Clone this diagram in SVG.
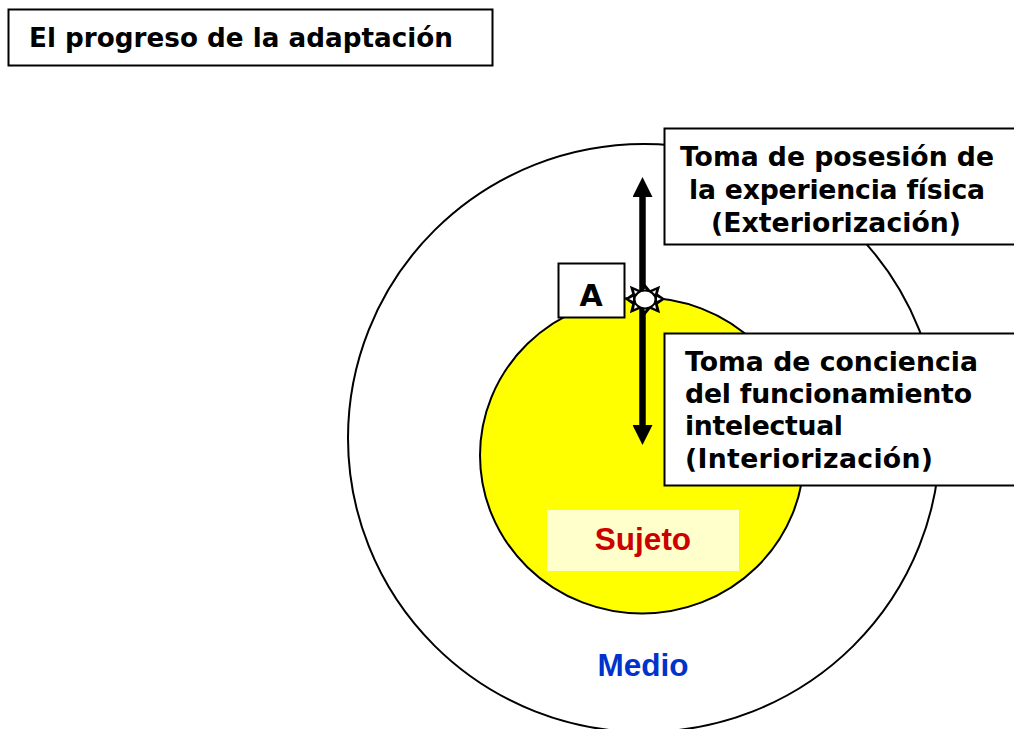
<svg xmlns="http://www.w3.org/2000/svg" width="1014" height="729" viewBox="0 0 1014 729">
<style>
.b{fill:#fff;stroke:#000;stroke-width:2}
.t{font-family:"DejaVu Sans",Verdana,sans-serif;font-weight:bold;font-size:26.700px;fill:#000}
.a{font-family:"Liberation Sans",Arial,sans-serif;font-weight:bold;font-size:31.500px}
</style>
<defs><marker id="ah" markerUnits="userSpaceOnUse" markerWidth="20" markerHeight="20" refX="2" refY="10" orient="auto"><path d="M0 0L20 10L0 20z" fill="#000"/></marker></defs>
<rect width="1014" height="729" fill="#fff"/>
<g id="title"><rect class="b" x="8.500" y="9.500" width="484" height="56"/><text class="t" x="29" y="47" textLength="424" lengthAdjust="spacingAndGlyphs">El progreso de la adaptación</text></g>
<g id="medio"><ellipse cx="644" cy="438" rx="296" ry="294" fill="#fff" stroke="#000" stroke-width="2"/><text class="a" x="643" y="676" text-anchor="middle" fill="#0033cc">Medio</text></g>
<g id="sujeto"><ellipse cx="642" cy="455.500" rx="162" ry="158" fill="#ff0" stroke="#000" stroke-width="2"/><rect x="547" y="510" width="192" height="61" fill="#ffc"/><text class="a" x="643" y="550" text-anchor="middle" fill="#c00">Sujeto</text></g>
<g id="connectors" fill="none" stroke="#000" stroke-width="6.500"><path d="M642.500 300V195" marker-end="url(#ah)"/><path d="M642.500 300V427" marker-end="url(#ah)"/></g>
<g id="exterior"><rect class="b" x="664.500" y="128.500" width="352" height="116"/><text class="t"><tspan x="680" y="166" textLength="314">Toma de posesión de</tspan><tspan x="689" y="199" textLength="296">la experiencia física</tspan><tspan x="711" y="232" textLength="250">(Exteriorización)</tspan></text></g>
<g id="interior"><rect class="b" x="664.500" y="333.500" width="352" height="152"/><text class="t"><tspan x="685" y="371" textLength="293">Toma de conciencia</tspan><tspan x="685" y="403" textLength="287">del funcionamiento</tspan><tspan x="685" y="435" textLength="158">intelectual</tspan><tspan x="685" y="468" textLength="248">(Interiorización)</tspan></text></g>
<g id="a"><rect class="b" x="558.500" y="263.500" width="66" height="54"/><text class="t" x="591" y="306" text-anchor="middle" style="font-size:30px">A</text></g>
<g id="sun"><path d="M645 285L650 291L659 287L657 294L664 299L657 304L659 312L650 308L645 314L640 308L631 312L633 304L626 299L633 294L631 287L640 291z" fill="#000" stroke="#000" stroke-width="1.500"/><path d="M645 288.500L647 292L642.500 292zM656 290L655 294L652 292zM661 299L657 301L657 297zM656 309L652 307L655 304zM645 311L643 307L647 307zM634 309L635 304L638 307zM629 299L633 297L633 301zM634 290L638 292L635 294z" fill="#fff"/><ellipse cx="645" cy="299.500" rx="10.500" ry="9" fill="#fff" stroke="#000" stroke-width="2"/></g>
</svg>
